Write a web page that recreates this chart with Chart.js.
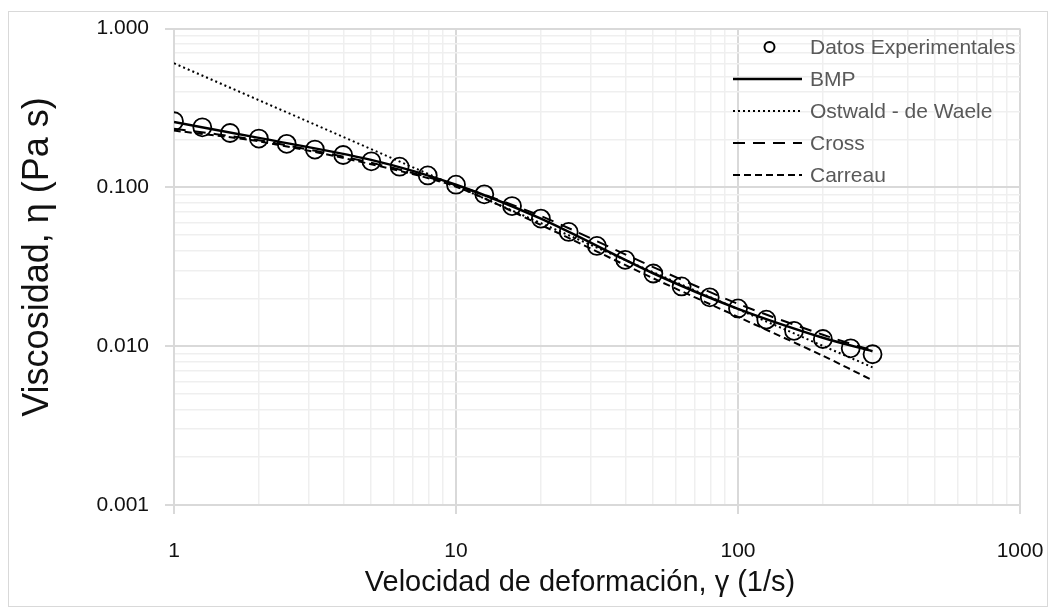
<!DOCTYPE html>
<html>
<head>
<meta charset="utf-8">
<script src="https://cdn.jsdelivr.net/npm/chart.js@4.4.1/dist/chart.umd.min.js"></script>
<style>
  html, body { margin: 0; padding: 0; background: #fff; }
  #wrap { position: relative; width: 1055px; height: 611px; }
  #frame { position: absolute; left: 8px; top: 11px; width: 1040px; height: 596px; border: 1px solid #d9d9d9; box-sizing: border-box; pointer-events: none; }
</style>
</head>
<body>
<div id="wrap">
  <canvas id="chart" width="1055" height="611"></canvas>
  <div id="frame"></div>
</div>
<script>
// experimental data
const shearRate = [1, 1.26, 1.58, 2, 2.51, 3.16, 3.98, 5.01, 6.31, 7.94, 10, 12.6, 15.8, 20, 25.1, 31.6, 39.8, 50.1, 63.1, 79.4, 100, 126, 158, 200, 251, 300];
const viscosity = [0.261, 0.239, 0.220, 0.203, 0.188, 0.173, 0.160, 0.146, 0.135, 0.119, 0.104, 0.0904, 0.0763, 0.0636, 0.0524, 0.0428, 0.0350, 0.0287, 0.0238, 0.0203, 0.0173, 0.0147, 0.0125, 0.0111, 0.0097, 0.0089];

// model curves
const modelRate = [1, 2, 5, 10, 20, 50, 100, 200, 300];
const bmp = [0.258, 0.205, 0.149, 0.104, 0.0635, 0.0288, 0.0172, 0.0113, 0.0093];
const cross = [0.234, 0.198, 0.143, 0.103, 0.066, 0.0315, 0.0185, 0.0118, 0.0094];
const carreau = [0.228, 0.195, 0.140, 0.101, 0.058, 0.0268, 0.0153, 0.0087, 0.0061];
const powerRate = [1, 10, 100, 300];
const ostwald = [0.605, 0.102, 0.0171, 0.00736];

const xMajor = [1, 10, 100, 1000];
const yMajor = [0.001, 0.01, 0.1, 1];

const xTitle = 'Velocidad de deformación, γ (1/s)';
const yTitle = 'Viscosidad, η (Pa s)';

const FONT = "'Liberation Sans', Arial, sans-serif";

const pts = (xs, ys) => xs.map((x, i) => ({ x, y: ys[i] }));

// minor ticks 1..9 within each decade
function decadeTicks(majors) {
  const out = [];
  for (let i = 0; i < majors.length; i++) {
    out.push({ value: majors[i], major: true });
    if (i < majors.length - 1) {
      for (let m = 2; m <= 9; m++) out.push({ value: +(majors[i] * m).toPrecision(3), major: false });
    }
  }
  return out;
}

const isMajor = (ctx) => ctx.tick && ctx.tick.major;

const datasets = [
  { label: 'Datos Experimentales', data: pts(shearRate, viscosity), showLine: false,
    pointStyle: 'circle', pointRadius: 9, pointBorderWidth: 1.8, pointBorderColor: '#000', pointBackgroundColor: 'rgba(0,0,0,0)' },
  { label: 'BMP', data: pts(modelRate, bmp), showLine: true, borderColor: '#000', borderWidth: 2.5, pointRadius: 0, tension: 0.3 },
  { label: 'Ostwald - de Waele', data: pts(powerRate, ostwald), showLine: true, borderColor: '#000', borderWidth: 2, borderDash: [2, 3], pointRadius: 0 },
  { label: 'Cross', data: pts(modelRate, cross), showLine: true, borderColor: '#000', borderWidth: 2, borderDash: [12, 8], pointRadius: 0, tension: 0.3 },
  { label: 'Carreau', data: pts(modelRate, carreau), showLine: true, borderColor: '#000', borderWidth: 2, borderDash: [7, 4], pointRadius: 0, tension: 0.3 }
];

// legend drawn inside the plot (top right) and the two axis titles
const overlay = {
  id: 'overlay',
  afterDraw(chart) {
    const ctx = chart.ctx;
    const x0 = 733, x1 = 802, tx = 810;
    let y = 47;
    ctx.save();
    ctx.font = '21px ' + FONT;
    ctx.textBaseline = 'middle';
    ctx.fillStyle = '#595959';
    chart.data.datasets.forEach(ds => {
      ctx.strokeStyle = '#000';
      if (ds.showLine === false) {
        ctx.lineWidth = 2;
        ctx.setLineDash([]);
        ctx.beginPath();
        ctx.arc((x0 + x1) / 2 + 2, y, 5, 0, Math.PI * 2);
        ctx.stroke();
      } else {
        ctx.lineWidth = ds.borderWidth;
        ctx.setLineDash(ds.borderDash || []);
        ctx.beginPath();
        ctx.moveTo(x0, y);
        ctx.lineTo(x1, y);
        ctx.stroke();
      }
      ctx.fillText(ds.label, tx, y + 1);
      y += 32;
    });

    // axis titles
    ctx.fillStyle = '#111';
    ctx.textAlign = 'center';
    ctx.font = '29px ' + FONT;
    ctx.fillText(xTitle, 580, 583);
    ctx.translate(38, 257);
    ctx.rotate(-Math.PI / 2);
    ctx.font = '36px ' + FONT;
    ctx.fillText(yTitle, 0, 0);
    ctx.restore();
  }
};

new Chart(document.getElementById('chart'), {
  type: 'scatter',
  data: { datasets },
  options: {
    responsive: false,
    animation: false,
    layout: { padding: { left: 0, right: 35, top: 27, bottom: 0 } },
    plugins: { legend: { display: false }, tooltip: { enabled: false } },
    scales: {
      x: {
        type: 'logarithmic', min: 1, max: 1000,
        afterBuildTicks: s => { s.ticks = decadeTicks(xMajor); },
        afterFit: s => { s.height = 106; s.paddingLeft = 0; s.paddingRight = 0; },
        border: { color: '#d9d9d9', width: 2 },
        grid: {
          color: c => isMajor(c) ? '#d9d9d9' : '#efefef',
          lineWidth: c => isMajor(c) ? 2 : 1.5,
          tickColor: c => isMajor(c) ? '#d9d9d9' : 'rgba(0,0,0,0)',
          tickLength: 9
        },
        ticks: {
          autoSkip: false, maxRotation: 0, padding: 25,
          color: '#111', font: { family: FONT, size: 21 },
          callback: v => xMajor.includes(v) ? String(v) : ''
        }
      },
      y: {
        type: 'logarithmic', min: 0.001, max: 1,
        afterBuildTicks: s => { s.ticks = decadeTicks(yMajor); },
        afterFit: s => { s.width = 174; },
        border: { color: '#d9d9d9', width: 2 },
        grid: {
          color: c => isMajor(c) ? '#d9d9d9' : '#efefef',
          lineWidth: c => isMajor(c) ? 2 : 1.5,
          tickColor: c => isMajor(c) ? '#d9d9d9' : 'rgba(0,0,0,0)',
          tickLength: 9
        },
        ticks: {
          autoSkip: false, padding: 16,
          color: '#111', font: { family: FONT, size: 21 },
          callback: v => yMajor.includes(v) ? v.toFixed(3) : ''
        }
      }
    }
  },
  plugins: [overlay]
});
</script>
</body>
</html>
